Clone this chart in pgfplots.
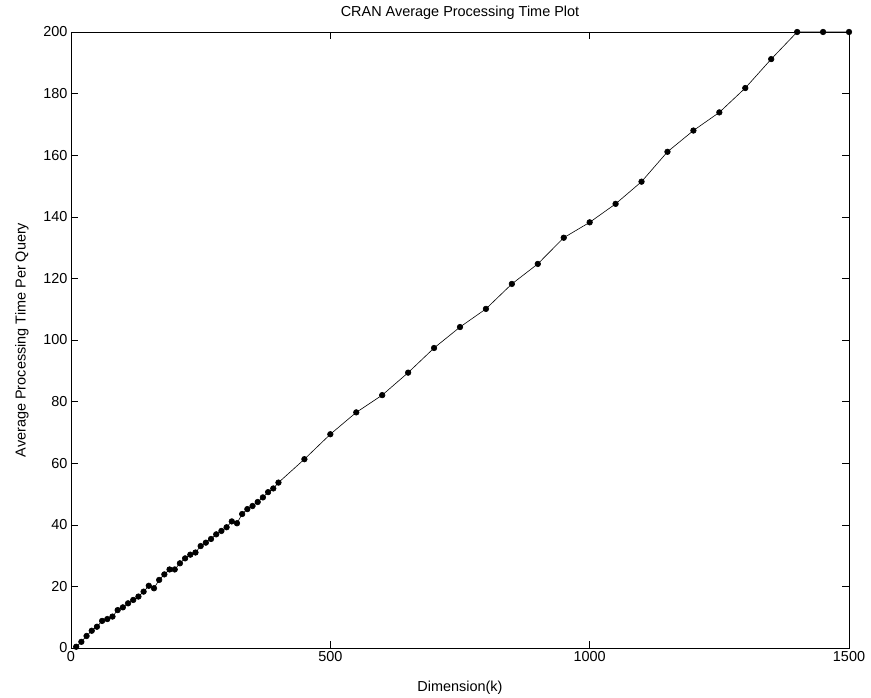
\documentclass[border=0pt]{standalone}
\usepackage{pgfplots}
\pgfplotsset{compat=1.18}
\usepackage{fontspec}
\setmainfont{Liberation Sans}
\begin{document}
\begin{tikzpicture}
\begin{axis}[
  scale only axis,
  width=778bp, height=616bp,
  xmin=0, xmax=1500, ymin=0, ymax=200,
  xtick={0,500,1000,1500},
  ytick={0,20,...,200},
  tick align=inside,
  major tick length=7bp,
  tick style={black, line width=0.5bp},
  axis line style={black, line width=0.6bp},
  /pgf/number format/assume math mode=true,
  ticklabel style={font=\fontsize{14.5}{17}\selectfont},
  xlabel style={font=\fontsize{14.5}{17}\selectfont, yshift=-12bp},
  ylabel style={font=\fontsize{14.5}{17}\selectfont, yshift=8bp},
  title style={font=\fontsize{14.5}{17}\selectfont, yshift=3bp},
  title={CRAN Average Processing Time Plot},
  xlabel={Dimension(k)},
  ylabel={Average Processing Time Per Query},
  scaled ticks=false,
  xticklabel style={/pgf/number format/1000 sep={}},
]
\addplot[black, line width=0.6bp, mark=*, mark size=2.8bp, mark options={fill=black}] coordinates {
(10,0.4) (20,2.0) (30,3.9) (40,5.6) (50,6.9) (60,8.8) (70,9.4) (80,10.2) (90,12.3) (100,13.2)
(110,14.5) (120,15.6) (130,16.7) (140,18.3) (150,20.2) (160,19.4) (170,22.1) (180,23.9) (190,25.5) (200,25.5)
(210,27.5) (220,29.1) (230,30.3) (240,31.0) (250,33.1) (260,34.2) (270,35.4) (280,36.9) (290,38.0) (300,39.2)
(310,41.1) (320,40.5) (330,43.5) (340,45.1) (350,46.1) (360,47.4) (370,48.9) (380,50.6) (390,51.8) (400,53.7)
(450,61.3) (500,69.4) (550,76.5) (600,82.1) (650,89.4) (700,97.4) (750,104.2) (800,110.1) (850,118.2)
(900,124.7) (950,133.2) (1000,138.2) (1050,144.2) (1100,151.4) (1150,161.1) (1200,168.0) (1250,173.9)
(1300,181.8) (1350,191.2) (1400,200) (1450,200) (1500,200)
};
\end{axis}
\path ([shift={(-71bp,-48bp)}]current axis.south west) rectangle ([shift={(22bp,32bp)}]current axis.north east);
\end{tikzpicture}
\end{document}
